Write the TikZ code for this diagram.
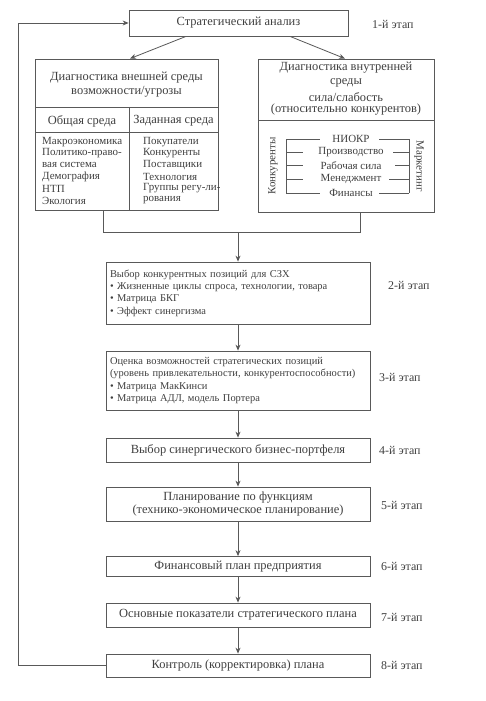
\documentclass[tikz,border=0pt]{standalone}
\usepackage{fontspec}
\setmainfont{Liberation Serif}
\usetikzlibrary{arrows.meta,calc}
\definecolor{lc}{gray}{0.35}
\definecolor{tc}{gray}{0.25}
\begin{document}
\begin{tikzpicture}[x=1bp,y=-1bp,
  box/.style={draw=lc, line width=0.8bp, inner sep=0pt, text=tc},
  arr/.style={draw=lc, line width=0.8bp, -{Stealth[length=6bp,width=5bp]}},
  ln/.style={draw=lc, line width=0.8bp},
  txt/.style={text=tc, inner sep=0pt},
  big/.style={font=\fontsize{12.5}{14}\selectfont},
  mid/.style={font=\fontsize{11}{12}\selectfont},
  sml/.style={font=\fontsize{10.5}{12.3}\selectfont},
  brk/.style={font=\fontsize{11}{12}\selectfont},
  stage/.style={txt, anchor=west, font=\fontsize{12}{13}\selectfont}]
\useasboundingbox[fill=white] (0,0) rectangle (486,701);

% top box
\node[box, big, minimum width=219bp, minimum height=26bp] (sa) at (238.5,23) {Стратегический анализ};
\node[stage] (s1) at (372,24) {1-й этап};

% external environment box
\node[box, minimum width=183bp, minimum height=151bp] (ext) at (126.5,134.5) {};
\draw[ln] (35,107) -- (218,107);
\draw[ln] (35,132) -- (218,132);
\draw[ln] (129,107) -- (129,210);
\node[txt, big] (e1) at (126.5,78) {Диагностика внешней среды};
\node[txt, big] (e2) at (126.5,92) {возможности/угрозы};
\node[txt, big] (eg) at (82,121) {Общая среда};
\node[txt, big] (ez) at (173.5,121) {Заданная среда};
\foreach \t/\y [count=\i] in {Макроэкономика/142, Политико-право-/153.5, вая система/165, Демография/177, НТП/188.5, Экология/200.5}
  \node[txt, mid, anchor=west] (el\i) at (42,\y) {\t};
\foreach \t/\y [count=\i] in {Покупатели/142, Конкуренты/153.5, Поставщики/165, Технология/177, Группы регу-ли-/188.5, рования/200.5}
  \node[txt, mid, anchor=west] (er\i) at (143,\y) {\t};

% internal environment box
\node[box, minimum width=176bp, minimum height=153bp] (int) at (346,135.5) {};
\draw[ln] (258,120) -- (434,120);
\node[txt, big] (ih1) at (346,68) {Диагностика внутренней};
\node[txt, big] (ih2) at (346,83) {среды};
\node[txt, big] (ih3) at (346,97) {сила/слабость};
\node[txt, big] (ih4) at (346,110) {(относительно конкурентов)};
\draw[ln] (286,139) -- (286,193);
\draw[ln] (409,139) -- (409,193);
\foreach \t/\y/\l/\r [count=\i] in {НИОКР/139/320/379, Производство/152/303/393, Рабочая сила/165.5/303/395, Менеджмент/179/303/389, Финансы/193/320/379}{
  \node[txt, brk] (ii\i) at (351,\y) {\t};
  \draw[ln] (286,\y) -- (\l,\y);
  \draw[ln] (\r,\y) -- (409,\y);
}
\node[txt, brk, rotate=90] (ik) at (273,166) {Конкуренты};
\node[txt, brk, rotate=-90] (im) at (419,166) {Маркетинг};

% arrows from top box
\draw[arr] ($(sa.south)+(-52.5,0)$) -- ($(ext.north)+(3.5,0)$);
\draw[arr] ($(sa.south)+(51.5,0)$) -- ($(int.north)+(-1,0)$);

% merge
\coordinate (mL) at (103,232);
\coordinate (mR) at (360,232);
\coordinate (mC) at (238,232);
\draw[ln] (ext.south -| mL) -- (mL) -- (mR) -- (int.south -| mR);

% stage 2
\node[box, sml, minimum width=264bp, minimum height=62bp, text width=256bp, align=left] (b2) at (238,293)
  {Выбор конкурентных позиций для СЗХ\\
   • Жизненные циклы спроса, технологии, товара\\
   • Матрица БКГ\\
   • Эффект синергизма};
\node[stage] (s2) at (388,285) {2-й этап};
\draw[arr] (mC) -- (b2.north);

% stage 3
\node[box, sml, minimum width=264bp, minimum height=59bp, text width=256bp, align=left] (b3) at (238,380.5)
  {Оценка возможностей стратегических позиций\\
   (уровень привлекательности, конкурентоспособности)\\
   • Матрица МакКинси\\
   • Матрица АДЛ, модель Портера};
\node[stage] (s3) at (379,377) {3-й этап};
\draw[arr] (b2) -- (b3);

% stage 4
\node[box, big, minimum width=264bp, minimum height=24bp] (b4) at (238,450) {Выбор синергического бизнес-портфеля};
\node[stage] (s4) at (379,450) {4-й этап};
\draw[arr] (b3) -- (b4);

% stage 5
\node[box, big, minimum width=264bp, minimum height=34bp, align=center] (b5) at (238,504)
  {Планирование по функциям\\(технико-экономическое планирование)};
\node[stage] (s5) at (381,505) {5-й этап};
\draw[arr] (b4) -- (b5);

% stage 6
\node[box, big, minimum width=264bp, minimum height=20bp] (b6) at (238,566.5) {Финансовый план предприятия};
\node[stage] (s6) at (381,566) {6-й этап};
\draw[arr] (b5) -- (b6);

% stage 7
\node[box, big, minimum width=264bp, minimum height=24bp] (b7) at (238,615) {Основные показатели стратегического плана};
\node[stage] (s7) at (381,617) {7-й этап};
\draw[arr] (b6) -- (b7);

% stage 8
\node[box, big, minimum width=264bp, minimum height=23bp] (b8) at (238,665.5) {Контроль (корректировка) плана};
\node[stage] (s8) at (381,665) {8-й этап};
\draw[arr] (b7) -- (b8);

% feedback
\coordinate (fb) at (18,23);
\draw[arr] (b8.west) -- (b8.west -| fb) -- (fb) -- (sa.west);
\end{tikzpicture}
\end{document}
